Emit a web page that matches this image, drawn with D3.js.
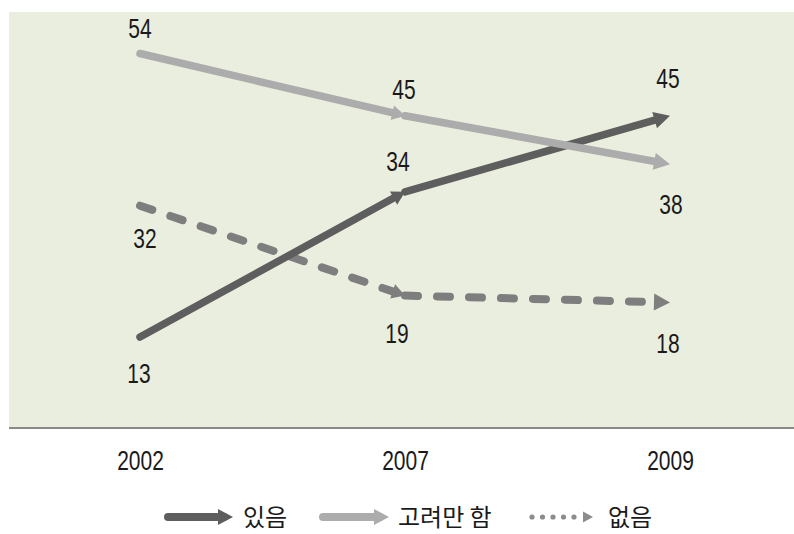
<!DOCTYPE html>
<html>
<head>
<meta charset="utf-8">
<script src="https://cdn.jsdelivr.net/npm/d3@7"></script>
<style>
  html, body { margin: 0; padding: 0; background: #ffffff; }
  svg { display: block; }
  .num { font-family: "Liberation Sans", Arial, sans-serif; font-size: 28px; fill: #1a1a1a; }
  .leg { font-family: "Noto Sans CJK KR", "Noto Sans", sans-serif; font-size: 24px; fill: #1a1a1a; }
</style>
</head>
<body>
<svg id="chart" width="794" height="534"></svg>
<script>
// Survey years and the three response series
const years = ["2002", "2007", "2009"];
const seriesNames = ["있음", "고려만 함", "없음"];
const valuesYes = [13, 34, 45];
const valuesConsider = [54, 45, 38];
const valuesNone = [32, 19, 18];

const W = 794, H = 534;
const plot = { left: 9, right: 794, top: 12, bottom: 427 };
const narrow = 0.75; // horizontal squeeze for the condensed numerals

const svg = d3.select("#chart");

const x = d3.scalePoint().domain(years).range([140, 670]);
const y = d3.scaleLinear().domain([0, 60]).range([plot.bottom, plot.top]);

// Plot background
svg.append("rect")
  .attr("x", plot.left).attr("y", plot.top)
  .attr("width", plot.right - plot.left).attr("height", plot.bottom - plot.top)
  .attr("fill", "#eaeedf");

// Baseline axis
const xAxis = d3.axisBottom(x).tickSize(0).tickPadding(22);
const axisG = svg.append("g").attr("transform", `translate(0,${plot.bottom + 1})`).call(xAxis);
axisG.attr("font-family", null).attr("font-size", null);
axisG.select(".domain").remove();
axisG.append("line")
  .attr("x1", plot.left).attr("x2", plot.right)
  .attr("y1", 0).attr("y2", 0)
  .attr("stroke", "#8a8a8a").attr("stroke-width", 2.2);
axisG.selectAll(".tick text")
  .attr("class", "num")
  .attr("dy", null)
  .attr("y", 42)
  .attr("fill", "#1a1a1a")
  .attr("transform", `scale(${narrow},1)`);

// Style and label placement for each series
const series = [
  { name: seriesNames[2], values: valuesNone, color: "#7e7e7e", width: 8, dash: "13,19",
    labelOffsets: [[5, 42], [-8, 47], [-2, 50]] },
  { name: seriesNames[0], values: valuesYes, color: "#5e5e5e", width: 7.5, dash: null,
    labelOffsets: [[-1, 46], [-7, -21], [-2, -28]] },
  { name: seriesNames[1], values: valuesConsider, color: "#acacac", width: 7.5, dash: null,
    labelOffsets: [[0, -16], [-1, -17], [1, 50]] }
];

function arrowHead(g, x0, y0, x1, y1, len, wid, color) {
  const a = Math.atan2(y1 - y0, x1 - x0);
  const ux = Math.cos(a), uy = Math.sin(a);
  const bx = x1 - ux * len, by = y1 - uy * len;
  const px = -uy * wid / 2, py = ux * wid / 2;
  g.append("path")
    .attr("d", `M${x1},${y1}L${bx + px},${by + py}L${bx - px},${by - py}Z`)
    .attr("fill", color);
}

series.forEach(s => {
  const g = svg.append("g");
  const pts = years.map((yr, i) => [x(yr), y(s.values[i])]);
  for (let i = 0; i < pts.length - 1; i++) {
    const [x0, y0] = pts[i], [x1, y1] = pts[i + 1];
    const last = i === pts.length - 2;
    const len = last ? 16 : 13, wid = last ? 17 : 15;
    const a = Math.atan2(y1 - y0, x1 - x0);
    const cut = len * 0.6;
    g.append("line")
      .attr("x1", x0).attr("y1", y0)
      .attr("x2", x1 - Math.cos(a) * cut).attr("y2", y1 - Math.sin(a) * cut)
      .attr("stroke", s.color)
      .attr("stroke-width", s.width)
      .attr("stroke-linecap", "round")
      .attr("stroke-dasharray", s.dash);
    arrowHead(g, x0, y0, x1, y1, len, wid, s.color);
  }
});

// Value labels
series.forEach(s => {
  svg.append("g").selectAll("text")
    .data(s.values)
    .join("text")
    .attr("class", "num")
    .attr("text-anchor", "middle")
    .attr("transform", (d, i) =>
      `translate(${x(years[i]) + s.labelOffsets[i][0]},${y(d) + s.labelOffsets[i][1]}) scale(${narrow},1)`)
    .text(d => d);
});

// Legend
const legY = 517;
const legend = svg.append("g");
const legendItems = [
  { name: seriesNames[0], color: "#5e5e5e", type: "solid", x0: 168, x1: 233, tx: 243 },
  { name: seriesNames[1], color: "#acacac", type: "solid", x0: 323, x1: 389, tx: 398 },
  { name: seriesNames[2], color: "#8c8c8c", type: "dots", x0: 532, x1: 593, tx: 608 }
];
legendItems.forEach(it => {
  if (it.type === "solid") {
    legend.append("line")
      .attr("x1", it.x0).attr("x2", it.x1 - 9)
      .attr("y1", legY).attr("y2", legY)
      .attr("stroke", it.color).attr("stroke-width", 8)
      .attr("stroke-linecap", "round");
    arrowHead(legend, it.x0, legY, it.x1, legY, 15, 16, it.color);
  } else {
    d3.range(5).forEach(k => {
      legend.append("circle")
        .attr("cx", it.x0 + k * 10.5).attr("cy", legY).attr("r", 2.6)
        .attr("fill", it.color);
    });
    arrowHead(legend, it.x0, legY, it.x1, legY, 10, 11, it.color);
  }
  legend.append("text")
    .attr("class", "leg")
    .attr("x", it.tx).attr("y", legY + 9)
    .text(it.name);
});
</script>
</body>
</html>
